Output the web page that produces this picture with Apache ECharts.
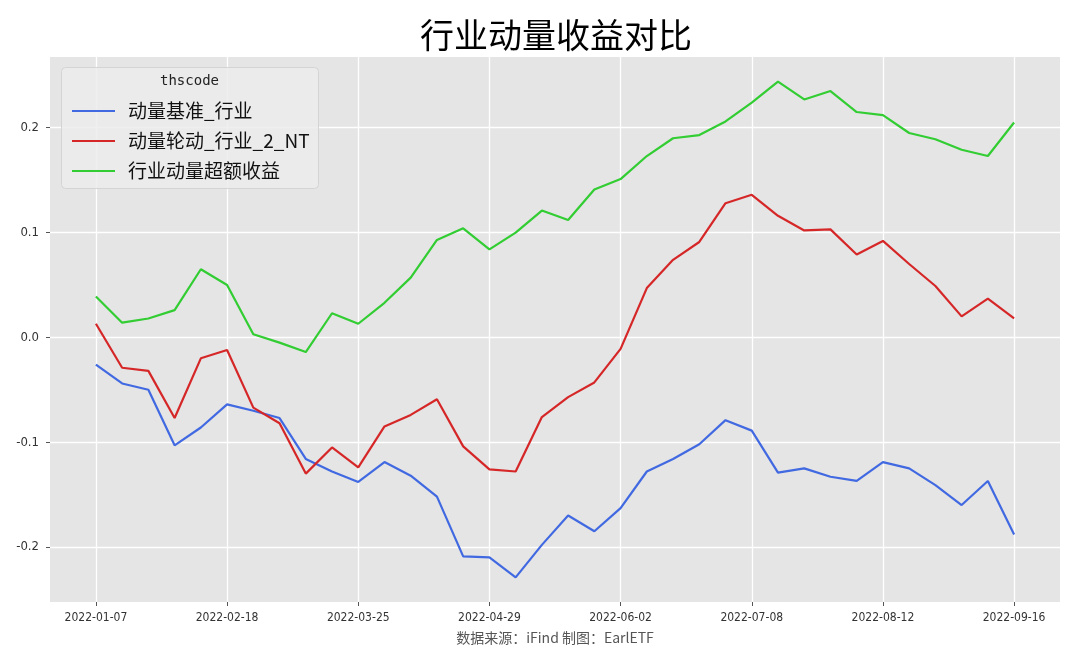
<!DOCTYPE html>
<html>
<head>
	<meta charset="utf-8" />
	<title>行业动量收益对比</title>
	<style>
		html, body { margin: 0; padding: 0; background: #fff; }
		#main { width: 1080px; height: 667px; }
	</style>
</head>
<body>
	<div id="main"></div>
	<script src="https://cdn.jsdelivr.net/npm/echarts@6.0.0/dist/echarts.min.js"></script>
	<script type="text/javascript">
		// 周度日期（春节周缺 02-04）
		var dates = ['2022-01-07', '2022-01-14', '2022-01-21', '2022-01-28', '2022-02-11', '2022-02-18',
			'2022-02-25', '2022-03-04', '2022-03-11', '2022-03-18', '2022-03-25', '2022-04-01',
			'2022-04-08', '2022-04-15', '2022-04-22', '2022-04-29', '2022-05-06', '2022-05-13',
			'2022-05-20', '2022-05-27', '2022-06-02', '2022-06-10', '2022-06-17', '2022-06-24',
			'2022-07-01', '2022-07-08', '2022-07-15', '2022-07-22', '2022-07-29', '2022-08-05',
			'2022-08-12', '2022-08-19', '2022-08-26', '2022-09-02', '2022-09-09', '2022-09-16'];
		var tickIdx = [0, 5, 10, 15, 20, 25, 30, 35];
		var yTicks = [-0.2, -0.1, 0, 0.1, 0.2];
		var names = ['动量基准_行业', '动量轮动_行业_2_NT', '行业动量超额收益'];

		var benchmark = [-0.026, -0.044, -0.050, -0.103, -0.086, -0.064, -0.070, -0.077, -0.116, -0.128,
			-0.138, -0.119, -0.132, -0.152, -0.209, -0.210, -0.229, -0.198, -0.170, -0.185,
			-0.163, -0.128, -0.116, -0.102, -0.079, -0.089, -0.129, -0.125, -0.133, -0.137,
			-0.119, -0.125, -0.141, -0.160, -0.137, -0.188];
		var rotation = [0.013, -0.029, -0.032, -0.077, -0.020, -0.012, -0.067, -0.082, -0.130, -0.105,
			-0.124, -0.085, -0.074, -0.059, -0.104, -0.126, -0.128, -0.076, -0.057, -0.043,
			-0.011, 0.047, 0.074, 0.091, 0.128, 0.136, 0.116, 0.102, 0.103, 0.079,
			0.092, 0.070, 0.049, 0.020, 0.037, 0.018];
		var excess = [0.039, 0.014, 0.018, 0.026, 0.065, 0.050, 0.003, -0.005, -0.014, 0.023,
			0.013, 0.033, 0.057, 0.093, 0.104, 0.084, 0.100, 0.121, 0.112, 0.141,
			0.151, 0.173, 0.190, 0.193, 0.206, 0.224, 0.244, 0.227, 0.235, 0.215,
			0.212, 0.195, 0.189, 0.179, 0.173, 0.205];

		var colors = ['#4169e1', '#d62728', '#32cd32'];
		var narrow = "'Liberation Sans Narrow', 'DejaVu Sans Condensed', sans-serif";

		function pairs(arr) {
			return arr.map(function (v, i) { return [i, v]; });
		}

		var chart = echarts.init(document.getElementById('main'));

		var seriesList = [benchmark, rotation, excess].map(function (arr, k) {
			return {
				name: names[k],
				type: 'line',
				data: pairs(arr),
				symbol: 'none',
				z: 3,
				lineStyle: { width: 2.2, color: colors[k] },
				itemStyle: { color: colors[k] },
				animation: false
			};
		});

		var option = {
			backgroundColor: '#ffffff',
			title: {
				text: '行业动量收益对比',
				left: 551,
				top: 13,
				textAlign: 'center',
				textStyle: { fontFamily: 'Noto Sans CJK SC', fontSize: 34, fontWeight: 'normal', color: '#000' }
			},
			grid: {
				left: 50, right: 20, top: 57, bottom: 65,
				show: true, backgroundColor: '#e5e5e5', borderWidth: 0
			},
			legend: {
				orient: 'vertical',
				left: 67,
				top: 96,
				z: 20,
				icon: 'rect',
				itemWidth: 43,
				itemHeight: 2,
				itemGap: 10,
				data: names,
				textStyle: {
					fontFamily: 'Noto Sans CJK SC', fontSize: 19, color: '#111',
					lineHeight: 20, padding: [0, 0, 0, 8]
				}
			},
			xAxis: {
				type: 'value',
				min: -1.75,
				max: 36.75,
				axisLine: { show: false, onZero: false },
				axisTick: { show: true, length: 4, customValues: tickIdx, lineStyle: { color: '#555' } },
				axisLabel: {
					customValues: tickIdx,
					margin: 10,
					fontFamily: narrow, fontSize: 12, color: '#333',
					formatter: function (v) { return dates[Math.round(v)]; }
				},
				splitLine: { show: true, lineStyle: { color: '#ffffff', width: 1.3 } }
			},
			yAxis: {
				type: 'value',
				min: -0.2525,
				max: 0.2675,
				axisLine: { show: false, onZero: false },
				axisTick: { show: true, length: 4, customValues: yTicks, lineStyle: { color: '#555' } },
				axisLabel: {
					customValues: yTicks,
					margin: 11,
					fontFamily: narrow, fontSize: 13, color: '#333',
					formatter: function (v) { return v.toFixed(1); }
				},
				splitLine: { show: true, lineStyle: { color: '#ffffff', width: 1.3 } }
			},
			graphic: [
				{
					type: 'rect', left: 61, top: 67, z: 10,
					shape: { width: 257, height: 121, r: 4 },
					style: { fill: 'rgba(236,236,236,0.85)', stroke: '#d4d4d4', lineWidth: 1 }
				},
				{
					type: 'text', left: 160, top: 74, z: 21,
					style: { text: 'thscode', font: '14px "DejaVu Sans Mono", monospace', fill: '#222' }
				},
				{
					type: 'text', x: 555, y: 631,
					style: { text: '数据来源：iFind 制图：EarlETF', font: '14px "Noto Sans CJK SC"', fill: '#555', align: 'center' }
				}
			],
			series: seriesList
		};
		chart.setOption(option);
	</script>
</body>
</html>
